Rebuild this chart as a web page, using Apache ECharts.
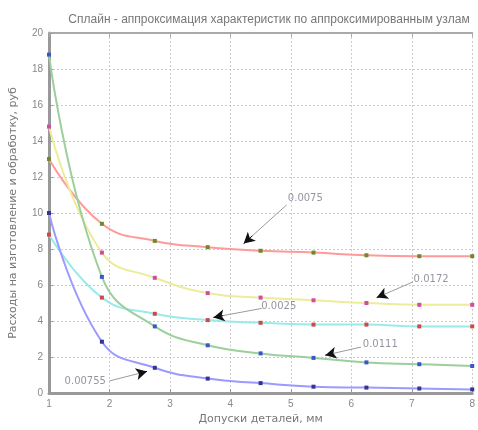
<!DOCTYPE html>
<html><head><meta charset="utf-8">
<script src="https://cdn.jsdelivr.net/npm/echarts@6/dist/echarts.min.js"></script>
<style>html,body{margin:0;padding:0;background:#fff}#c{width:478px;height:430px}</style>
</head><body><div id="c"></div>
<script>
const xNodes = [1, 1.875, 2.75, 3.625, 4.5, 5.375, 6.25, 7.125, 8];
const redVals    = [13.0, 9.4, 8.45, 8.1, 7.9, 7.8, 7.65, 7.6, 7.6];
const yellowVals = [14.8, 7.8, 6.4, 5.55, 5.3, 5.15, 5.0, 4.9, 4.9];
const cyanVals   = [8.8, 5.3, 4.4, 4.05, 3.9, 3.8, 3.8, 3.7, 3.7];
const greenVals  = [18.8, 6.45, 3.7, 2.65, 2.2, 1.95, 1.7, 1.6, 1.5];
const blueVals   = [10.0, 2.85, 1.4, 0.8, 0.55, 0.35, 0.3, 0.25, 0.2];
const annoText  = ['0.0075', '0.0172', '0.0025', '0.0111', '0.00755'];
const annoLabX  = [5.24, 7.32, 4.8, 6.48, 1.6];
const annoLabY  = [10.8, 6.33, 4.8, 2.7, 0.67];
const annoFromX = [4.93, 7.02, 4.52, 6.16, 2.0];
const annoFromY = [10.45, 6.17, 4.7, 2.55, 0.67];
const annoTipX  = [4.22, 6.42, 3.72, 5.57, 2.62];
const annoTipY  = [8.3, 5.3, 4.2, 2.1, 1.2];
const titleText = 'Сплайн - аппроксимация характеристик по аппроксимированным узлам';
const xName = 'Допуски деталей, мм';
const yName = 'Расходы на изготовление и обработку, руб';

const curves = [
  {v: redVals, line: '#ff9a9a', mark: '#6b8a2a'},
  {v: yellowVals, line: '#ecec9a', mark: '#d04aa8'},
  {v: cyanVals, line: '#9aeaea', mark: '#cc4a4a'},
  {v: greenVals, line: '#9ccf9c', mark: '#3858c8'},
  {v: blueVals, line: '#9a9aff', mark: '#343496'}
];
const series = curves.map(c => ({
  type: 'line', smooth: 0.45, data: xNodes.map((x, i) => [x, c.v[i]]),
  symbol: 'rect', symbolSize: 4, showSymbol: true,
  lineStyle: {color: c.line, width: 2}, itemStyle: {color: c.mark},
  z: 3
}));
series.push({
  type: 'line', data: [], silent: true,
  markLine: {
    silent: true, symbol: ['none', 'none'],
    lineStyle: {color: '#9a9a9a', width: 1, type: 'solid'}, label: {show: false},
    data: annoText.map((t, i) => [{coord: [annoFromX[i], annoFromY[i]]}, {coord: [annoTipX[i], annoTipY[i]]}])
  }
});
series.push({
  type: 'line', data: [], silent: true,
  markLine: {
    silent: true, symbol: ['none', 'arrow'], symbolSize: [9, 11],
    lineStyle: {color: '#111', width: 1, type: 'solid'}, label: {show: false},
    data: annoText.map((t, i) => [
      {coord: [annoFromX[i] + 0.8 * (annoTipX[i] - annoFromX[i]), annoFromY[i] + 0.8 * (annoTipY[i] - annoFromY[i])]},
      {coord: [annoTipX[i], annoTipY[i]]}])
  }
});
series.push({
  type: 'scatter', symbolSize: 0, silent: true,
  data: annoText.map((t, i) => ({value: [annoLabX[i], annoLabY[i]], name: t})),
  label: {show: true, position: 'inside', formatter: p => p.name, color: '#7a7a8a', fontSize: 10, fontFamily: 'DejaVu Sans'},
  z: 5
});
const chart = echarts.init(document.getElementById('c'), null, {renderer: 'canvas'});
chart.setOption({
  animation: false,
  title: {text: titleText, left: 264, top: 9, textAlign: 'center',
    textStyle: {fontSize: 12, fontWeight: 'normal', color: '#777', fontFamily: 'Liberation Sans'}},
  grid: {left: 47, right: 1, top: 33, bottom: 37},
  xAxis: [{
    type: 'value', min: 1, max: 8, interval: 1,
    name: xName, nameLocation: 'middle', nameGap: 20,
    nameTextStyle: {fontSize: 11, color: '#777', fontFamily: 'DejaVu Sans'},
    axisLine: {lineStyle: {color: '#999', width: 3}},
    axisTick: {inside: true, length: 4, lineStyle: {color: '#999'}},
    axisLabel: {color: '#888', fontSize: 10, margin: 6},
    splitLine: {show: true, lineStyle: {color: '#ccc', type: [2, 2], width: 1}}
  }, {
    type: 'value', position: 'top', min: 1, max: 8, interval: 1,
    axisLine: {show: true, lineStyle: {color: '#aaa', width: 2}},
    axisTick: {inside: true, length: 4, lineStyle: {color: '#aaa'}},
    axisLabel: {show: false}, splitLine: {show: false}
  }],
  yAxis: {
    type: 'value', min: 0, max: 20, interval: 2,
    name: yName, nameLocation: 'middle', nameGap: 30,
    nameTextStyle: {fontSize: 11, color: '#777', fontFamily: 'DejaVu Sans'},
    axisLine: {show: true, lineStyle: {color: '#999', width: 3}},
    axisTick: {show: true, inside: true, length: 4, lineStyle: {color: '#999'}},
    axisLabel: {color: '#888', fontSize: 10, margin: 6},
    splitLine: {show: true, lineStyle: {color: '#ccc', type: [2, 2], width: 1}}
  },
  series: series
});
</script></body></html>
